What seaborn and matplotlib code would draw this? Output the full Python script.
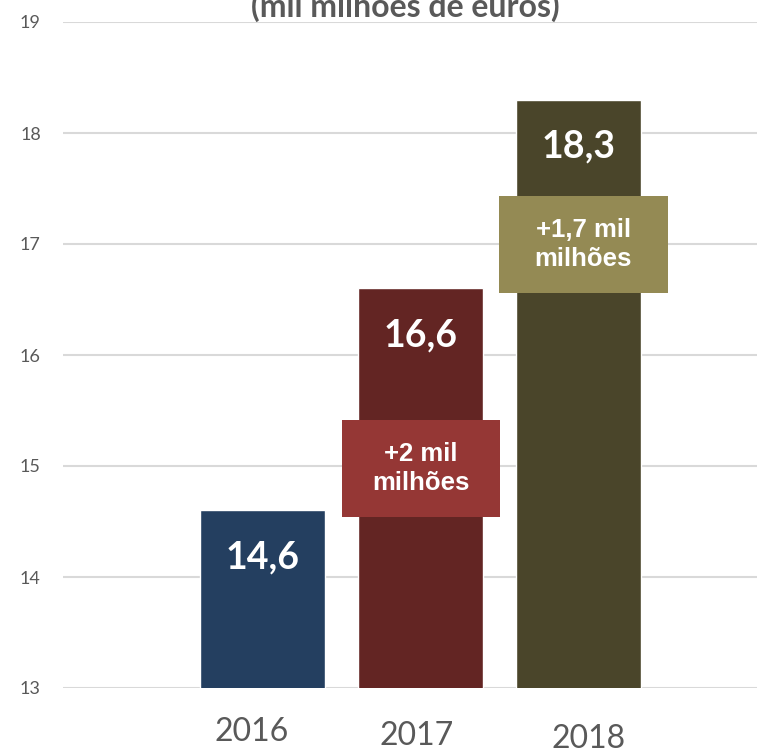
import matplotlib
matplotlib.use("Agg")
import matplotlib.pyplot as plt
import matplotlib.transforms as mtransforms
from matplotlib.patches import Rectangle
import seaborn as sns

years = ["2016", "2017", "2018"]
values = [14.6, 16.6, 18.3]
value_labels = ["14,6", "16,6", "18,3"]
bar_colors = ["#243f60", "#632523", "#4a452a"]

growth_labels = ["+2 mil\nmilhões", "+1,7 mil\nmilhões"]
growth_colors = ["#953735", "#948a54"]

title = "(mil milhões de euros)"
grey = "#595959"

sns.set_style("white")
plt.rcParams["font.family"] = ["Lato", "DejaVu Sans"]

fig = plt.figure(figsize=(7.57, 7.55), dpi=100)
ax = fig.add_axes([63 / 757, 67 / 755, 1 - 63 / 757, 666 / 755])

sns.barplot(x=years, y=values, hue=years, palette=bar_colors, width=0.79,
            legend=False, ax=ax, saturation=1, zorder=3)

ax.set_ylim(13, 19)
ax.set_xlim(-1.26, 3.13)
ax.set_yticks(range(13, 20))
ax.yaxis.grid(True, color="#d9d9d9", linewidth=1.5, zorder=0)
ax.set_axisbelow(True)
for s in ax.spines.values():
    s.set_visible(False)
ax.tick_params(axis="y", length=0, pad=16, labelsize=13, labelcolor=grey)
ax.tick_params(axis="x", length=0, pad=23, labelsize=23, labelcolor=grey)
ax.set_xlabel("")
ax.set_ylabel("")

# staggered year labels like the original
offsets = [(-11, 3), (-4, -1), (10, -4)]
for lab, (dx, dy) in zip(ax.get_xticklabels(), offsets):
    lab.set_transform(lab.get_transform() +
                      mtransforms.ScaledTranslation(dx / 100, dy / 100, fig.dpi_scale_trans))

# value labels inside bars
for i, (v, t) in enumerate(zip(values, value_labels)):
    ax.text(i, v - 0.42, t, ha="center", va="center", color="white",
            fontsize=27, fontweight="bold", zorder=5)

# growth boxes
boxes = [(0.503, 14.54, 1.0, 0.87), (1.497, 16.56, 1.07, 0.87)]
for (x0, y0, w, h), c, t in zip(boxes, growth_colors, growth_labels):
    ax.add_patch(Rectangle((x0, y0), w, h, facecolor=c, edgecolor="none", zorder=4))
    ax.text(x0 + w / 2, y0 + h / 2, t, ha="center", va="center", color="white",
            fontsize=18.5, fontweight="bold", linespacing=1.25, zorder=5,
            family=["Liberation Sans Narrow", "Liberation Sans", "DejaVu Sans"])

fig.text(405 / 757, 1 - 17 / 755, title, ha="center", va="baseline",
         fontsize=23, fontweight="bold", color=grey)

fig.savefig("out.png", dpi=100)
